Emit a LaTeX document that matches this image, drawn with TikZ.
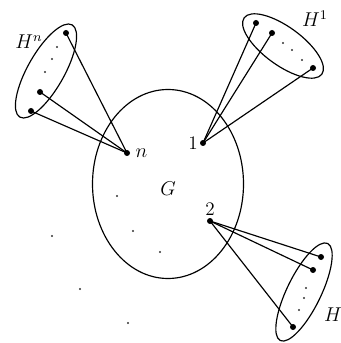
\documentclass[tikz,border=0pt]{standalone}
\usepackage{tikz}
\usetikzlibrary{positioning, shapes.geometric}
\tikzset{
	vertexnode/.style={
			circle,
			fill=black,
			draw=none,
			minimum size=3.6pt,
			inner sep=0pt
		},
	dotnode/.style={
			circle,
			fill=black!80,
			draw=none,
			minimum size=1.4pt,
			inner sep=0pt
		},
	setnode/.style={
			ellipse,
			draw=black,
			line width=0.7pt,
			inner sep=0pt
		},
	labelnode/.style={
			font=\fontsize{11.5}{14}\selectfont,
			inner sep=1pt
		},
	edge/.style={
			line width=0.7pt
		}
}

\begin{document}
\begin{tikzpicture}[x=0.6pt, y=-0.6pt]
  \useasboundingbox (0,0) rectangle (340,343);

  \node[setnode, minimum width=90.6pt, minimum height=113.4pt] (g) at (168,184) {};
  \node[labelnode] (glabel) at (168,189) {$G$};

  \node[setnode, minimum width=63.6pt, minimum height=22pt, rotate=60.5] (setn) at (46,71) {};
  \node[setnode, minimum width=57.6pt, minimum height=23pt, rotate=-36] (set1) at (283,46) {};
  \node[setnode, minimum width=64.8pt, minimum height=20.4pt, rotate=64] (set2) at (304,292) {};

  \node[labelnode] (ln) at (29,42) {$H^n$};
  \node[labelnode] (l1) at (315,19) {$H^1$};
  \node[labelnode] (l2) at (333,315) {$H$};

  \node[vertexnode] (vn) at (127,153) {};
  \node[vertexnode] (v1) at (203,143) {};
  \node[vertexnode] (v2) at (210,221) {};
  \node[labelnode, right=2pt of vn] (tn) {$n$};
  \node[labelnode, left=0pt of v1] (t1) {1};
  \node[labelnode, above=0pt of v2] (t2) {2};

  \node[vertexnode] (n1) at (66,33) {};
  \node[vertexnode] (n2) at (40,92) {};
  \node[vertexnode] (n3) at (31,111) {};
  \node[dotnode] (nd1) at (57,47) {};
  \node[dotnode] (nd2) at (52,59) {};
  \node[dotnode] (nd3) at (45,72) {};

  \node[vertexnode] (a1) at (256,23) {};
  \node[vertexnode] (a2) at (272,33) {};
  \node[vertexnode] (a3) at (313,68) {};
  \node[dotnode] (ad1) at (283,43) {};
  \node[dotnode] (ad2) at (292,50) {};
  \node[dotnode] (ad3) at (302,60) {};

  \node[vertexnode] (b1) at (321,257) {};
  \node[vertexnode] (b2) at (313,270) {};
  \node[vertexnode] (b3) at (293,327) {};
  \node[dotnode] (bd1) at (306,288) {};
  \node[dotnode] (bd2) at (304,298) {};
  \node[dotnode] (bd3) at (299,310) {};

  \node[dotnode] (o1) at (117,196) {};
  \node[dotnode] (o2) at (133,231) {};
  \node[dotnode] (o3) at (160,252) {};
  \node[dotnode] (o4) at (52,236) {};
  \node[dotnode] (o5) at (80,289) {};
  \node[dotnode] (o6) at (128,323) {};

  \draw[edge] (vn.center) -- (n1.center);
  \draw[edge] (vn.center) -- (n2.center);
  \draw[edge] (vn.center) -- (n3.center);
  \draw[edge] (v1.center) -- (a1.center);
  \draw[edge] (v1.center) -- (a2.center);
  \draw[edge] (v1.center) -- (a3.center);
  \draw[edge] (v2.center) -- (b1.center);
  \draw[edge] (v2.center) -- (b2.center);
  \draw[edge] (v2.center) -- (b3.center);

\end{tikzpicture}
\end{document}
